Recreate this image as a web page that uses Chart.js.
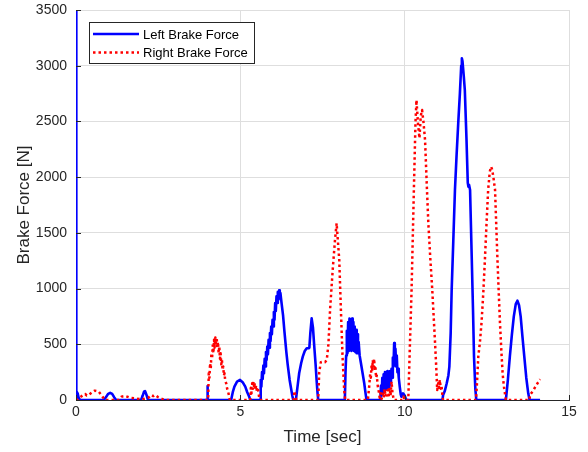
<!DOCTYPE html>
<html>
<head>
<meta charset="utf-8">
<script src="https://cdn.jsdelivr.net/npm/chart.js@4.4.1/dist/chart.umd.min.js"></script>
<style>
  html, body { margin: 0; padding: 0; background: #fff; }
  #wrap { width: 588px; height: 452px; }
</style>
</head>
<body>
<div id="wrap"><canvas id="chart" width="588" height="452"></canvas></div>
<script>
// ===== DATA =====
const seriesLabels = ['Left Brake Force', 'Right Brake Force'];
const xTicks = [0, 5, 10, 15];
const yTicks = [0, 500, 1000, 1500, 2000, 2500, 3000, 3500];

// Left brake force (time in sec / force in N), one line per burst
const leftTime = [
  0, 0, 0.02, 0.05, 0.08, 0.12,
  0.85, 0.92, 0.98, 1.04, 1.10, 1.16, 1.22,
  1.98, 2.03, 2.07, 2.10, 2.14, 2.19,
  3.99, 4.00, 4.01,
  4.72, 4.77, 4.82, 4.90, 4.99, 5.07, 5.15, 5.21, 5.27, 5.30,
  5.58, 5.60, 5.62, 5.64, 5.66, 5.68, 5.70, 5.72, 5.74, 5.76, 5.78, 5.80, 5.82, 5.84, 5.86, 5.88,
  5.90, 5.92, 5.94, 5.96, 5.98, 6.00, 6.02, 6.04, 6.06, 6.08, 6.10, 6.12, 6.14, 6.16, 6.18, 6.20,
  6.22, 6.25, 6.30, 6.34, 6.40, 6.44, 6.50, 6.54, 6.58, 6.61,
  6.69, 6.74, 6.79, 6.85, 6.90, 6.96, 7.02, 7.08, 7.10, 7.13, 7.17, 7.21, 7.25, 7.29, 7.32, 7.35, 7.37,
  8.18, 8.20, 8.22, 8.24, 8.26, 8.28, 8.30, 8.32, 8.34, 8.36, 8.38, 8.40, 8.42, 8.44, 8.46, 8.48,
  8.50, 8.52, 8.54, 8.56, 8.58, 8.60, 8.63, 8.67, 8.72, 8.77, 8.81, 8.84,
  9.26, 9.28, 9.30, 9.32, 9.34, 9.36, 9.38, 9.40, 9.42, 9.44, 9.46, 9.48, 9.50, 9.52, 9.54,
  9.56, 9.58, 9.60, 9.62, 9.64, 9.66, 9.68, 9.70, 9.72, 9.74, 9.76, 9.78, 9.80, 9.82,
  9.85, 9.88, 9.90, 9.95, 10.0, 10.05,
  11.15, 11.17, 11.22, 11.28, 11.33, 11.36, 11.40, 11.43, 11.48, 11.53, 11.58, 11.63, 11.68, 11.72,
  11.74, 11.76, 11.80, 11.83, 11.88, 11.92, 11.94, 11.96, 11.99, 12.04, 12.08, 12.11, 12.15, 12.18,
  13.08, 13.14, 13.20, 13.26, 13.32, 13.38, 13.43, 13.48, 13.53, 13.58, 13.64, 13.70, 13.76, 13.80, 14.12
];
const leftForce = [
  0, 3500, 80, 60, 20, 0,
  0, 30, 55, 65, 55, 25, 0,
  0, 40, 75, 80, 50, 0,
  0, 126, 0,
  0, 70, 120, 165, 180, 160, 120, 70, 30, 0,
  0, 0, 180, 120, 250, 190, 310, 240, 370, 300, 430, 360, 480, 410, 540, 470,
  600, 530, 660, 590, 720, 660, 790, 720, 870, 800, 930, 870, 970, 900, 985, 920,
  960, 880, 760, 620, 430, 320, 180, 110, 40, 0,
  0, 120, 240, 330, 389, 440, 464, 464, 470, 600, 733, 650, 478, 320, 180, 60, 0,
  0, 250, 400, 620, 420, 700, 440, 730, 450, 720, 440, 730, 450, 700, 440, 660,
  430, 630, 420, 590, 420, 520, 400, 330, 240, 150, 60, 0,
  0, 130, 40, 200, 60, 230, 80, 250, 90, 250, 100, 260, 110, 250, 120,
  260, 150, 280, 200, 380, 300, 510, 350, 460, 300, 400, 250, 280, 200,
  120, 50, 30, 60, 40, 0,
  0, 45, 80, 150, 220, 300, 600, 987, 1430, 1885, 2200, 2485, 2750, 3000,
  3066, 3040, 2900, 2782, 2350, 1950, 1914, 1930, 1885, 1286, 800, 389, 100, 0,
  0, 180, 389, 580, 748, 860, 891, 850, 748, 580, 389, 200, 60, 0, 0
];

// Right brake force
const rightTime = [
  0, 0.03, 0.1, 0.2, 0.28, 0.33, 0.39, 0.45, 0.52, 0.57, 0.63, 0.69, 0.77, 0.83, 0.88,
  1.3, 1.38, 1.5, 1.65, 1.8, 2.0, 2.2, 2.29, 2.35, 2.41, 2.5, 2.56, 2.7,
  4.02, 4.04, 4.06, 4.08, 4.10, 4.12, 4.14, 4.16, 4.18, 4.20, 4.22, 4.24, 4.26, 4.28,
  4.30, 4.32, 4.34, 4.36, 4.38, 4.40, 4.42, 4.44, 4.46, 4.48, 4.50, 4.52, 4.54, 4.57, 4.60, 4.64, 4.68,
  5.30, 5.32, 5.34, 5.36, 5.38, 5.40, 5.42, 5.44, 5.46, 5.48, 5.51, 5.54, 5.57, 5.60,
  6.62, 6.65, 6.68, 6.71,
  7.37, 7.40, 7.45, 7.52, 7.58, 7.63, 7.68, 7.73, 7.81, 7.88, 7.93, 7.95, 7.97, 8.01, 8.06, 8.11, 8.16, 8.19,
  8.88, 8.92, 8.95, 8.97, 8.99, 9.01, 9.03, 9.05, 9.07, 9.09, 9.11, 9.13, 9.15, 9.18, 9.21,
  9.24, 9.27, 9.30, 9.33, 9.36, 9.39, 9.42, 9.45, 9.48, 9.51, 9.54, 9.57, 9.60, 9.63, 9.67,
  9.92, 9.96, 10.0, 10.11, 10.16, 10.21, 10.28, 10.33, 10.36, 10.40, 10.45, 10.49, 10.53, 10.57,
  10.62, 10.67, 10.72, 10.78, 10.84, 10.92, 10.96, 10.99, 11.02, 11.04, 11.07, 11.10, 11.12, 11.15, 11.17,
  12.17, 12.20, 12.24, 12.29, 12.34, 12.39, 12.44, 12.49, 12.54, 12.59, 12.63,
  12.66, 12.70, 12.75, 12.82, 12.86, 12.90, 12.94, 12.98, 13.02, 13.05, 13.08,
  13.80, 13.81, 13.9, 14.0, 14.12
];
const rightForce = [
  0, 0, 20, 40, 54, 40, 45, 60, 75, 84, 80, 75, 45, 20, 0,
  0, 30, 36, 20, 15, 5, 20, 45, 35, 45, 25, 15, 0,
  0, 240, 200, 330, 280, 420, 370, 490, 420, 540, 470, 560, 500, 560,
  470, 520, 420, 480, 370, 420, 320, 360, 270, 300, 220, 240, 170, 150, 100, 60, 0,
  0, 110, 60, 150, 100, 165, 110, 150, 90, 130, 70, 90, 30, 0,
  0, 80, 30, 0,
  0, 250, 340, 345, 340, 360, 500, 808, 1167, 1436, 1586, 1500, 1421, 1256, 808, 389, 90, 0,
  0, 120, 230, 200, 300, 260, 360, 300, 370, 280, 300, 200, 220, 130, 80,
  20, 60, 10, 80, 20, 100, 30, 70, 90, 20, 110, 40, 165, 60, 0,
  0, 30, 0, 0, 500, 987, 1885, 2500, 2692, 2500, 2349, 2550, 2603, 2500,
  2333, 1950, 1588, 1270, 987, 538, 300, 90, 150, 110, 180, 100, 130, 40, 0,
  0, 150, 389, 520, 700, 950, 1250, 1580, 1885, 2050, 2094,
  2070, 2000, 1885, 1286, 980, 690, 450, 240, 120, 60, 0,
  0, 45, 80, 130, 186
];

// ===== CHART =====
const FONT = '"Liberation Sans", Arial, Helvetica, sans-serif';
const AXIS_COLOR = '#262626';
const toPoints = (ts, fs) => ts.map((t, i) => ({ x: t, y: fs[i] }));

// inward tick marks (MATLAB style)
const innerTicks = {
  id: 'innerTicks',
  afterDatasetsDraw(chart) {
    const { ctx, chartArea: a, scales } = chart;
    ctx.save();
    ctx.strokeStyle = AXIS_COLOR;
    ctx.lineWidth = 1;
    ctx.beginPath();
    xTicks.forEach(v => {
      const px = Math.round(scales.x.getPixelForValue(v)) + 0.5;
      ctx.moveTo(px, a.bottom); ctx.lineTo(px, a.bottom - 5);
    });
    yTicks.forEach(v => {
      const py = Math.round(scales.y.getPixelForValue(v)) + 0.5;
      ctx.moveTo(a.left, py); ctx.lineTo(a.left + 5, py);
    });
    ctx.stroke();
    ctx.restore();
  }
};

// legend box in the upper left corner
const boxLegend = {
  id: 'boxLegend',
  afterDraw(chart) {
    const { ctx } = chart;
    const x = 89.5, y = 22.5, w = 165, h = 41;
    ctx.save();
    ctx.fillStyle = '#fff';
    ctx.fillRect(x, y, w, h);
    ctx.strokeStyle = AXIS_COLOR;
    ctx.lineWidth = 1;
    ctx.strokeRect(x, y, w, h);
    ctx.font = '13px ' + FONT;
    ctx.textBaseline = 'middle';
    chart.data.datasets.forEach((ds, i) => {
      const ly = 34 + i * 18.5;
      ctx.beginPath();
      ctx.strokeStyle = ds.borderColor;
      ctx.lineWidth = ds.borderWidth;
      ctx.setLineDash(ds.borderDash || []);
      ctx.moveTo(93, ly); ctx.lineTo(139, ly);
      ctx.stroke();
      ctx.setLineDash([]);
      ctx.fillStyle = '#000';
      ctx.fillText(ds.label, 143, ly + 1);
    });
    ctx.restore();
  }
};

new Chart(document.getElementById('chart'), {
  type: 'line',
  data: {
    datasets: [
      {
        label: seriesLabels[0],
        data: toPoints(leftTime, leftForce),
        borderColor: '#0000ff',
        borderWidth: 2.6,
        borderJoinStyle: 'round',
        pointRadius: 0,
        tension: 0,
        order: 1
      },
      {
        label: seriesLabels[1],
        data: toPoints(rightTime, rightForce),
        borderColor: '#ff0000',
        borderWidth: 2.5,
        borderDash: [2.5, 3],
        borderCapStyle: 'butt',
        borderJoinStyle: 'round',
        pointRadius: 0,
        tension: 0,
        order: 0
      }
    ]
  },
  options: {
    responsive: false,
    animation: false,
    layout: { padding: { top: 10, right: 19, left: 0, bottom: 0 } },
    plugins: { legend: { display: false }, tooltip: { enabled: false } },
    scales: {
      x: {
        type: 'linear',
        min: 0, max: 15,
        afterBuildTicks: s => { s.ticks = xTicks.map(v => ({ value: v })); },
        afterFit: s => { s.height = 52; s.paddingLeft = 0; s.paddingRight = 0; },
        grid: { color: '#dedede', drawTicks: false },
        border: { color: AXIS_COLOR, width: 1 },
        ticks: { color: AXIS_COLOR, font: { family: FONT, size: 14 }, padding: 4, maxRotation: 0, callback: v => String(v) },
        title: { display: true, text: 'Time [sec]', color: AXIS_COLOR, font: { family: FONT, size: 17 }, padding: { top: 0, bottom: 4 } }
      },
      y: {
        min: 0, max: 3500,
        afterBuildTicks: s => { s.ticks = yTicks.map(v => ({ value: v })); },
        afterFit: s => { s.width = 76; s.paddingTop = 0; s.paddingBottom = 0; },
        grid: { color: '#dedede', drawTicks: false },
        border: { color: AXIS_COLOR, width: 1 },
        ticks: { color: AXIS_COLOR, font: { family: FONT, size: 14 }, padding: 9, callback: v => String(v) },
        title: { display: true, text: 'Brake Force [N]', color: AXIS_COLOR, font: { family: FONT, size: 17 }, padding: { top: 14, bottom: 0 } }
      }
    }
  },
  plugins: [innerTicks, boxLegend]
});
</script>
</body>
</html>
